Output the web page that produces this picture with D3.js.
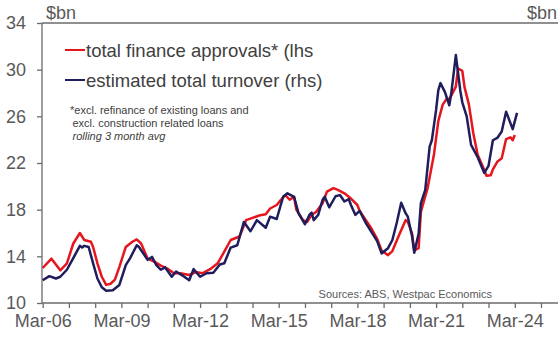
<!DOCTYPE html>
<html>
  <head>
    <title>Finance approvals vs turnover</title>
    <script type="text/javascript" src="https://cdnjs.cloudflare.com/ajax/libs/d3/7.8.5/d3.min.js"></script>
    <style>
      body { margin: 0; background: #fff; }
      text { font-family: "Liberation Sans", Arial, sans-serif; }
    </style>
  </head>
  <body>
  <script>

    // total finance approvals* (lhs), $bn, rolling 3 month avg
    var approvalsDates = [
      '2006-03','2006-07','2006-11','2007-02','2007-05','2007-08','2007-10','2008-01','2008-02','2008-04',
      '2008-06','2008-08','2008-10','2008-12','2009-02','2009-05','2009-07','2009-08','2009-10','2009-12',
      '2010-03','2010-06','2010-09','2010-12','2011-03','2011-06','2011-10','2012-01','2012-04','2012-08',
      '2012-11','2013-02','2013-05','2013-09','2013-12','2014-03','2014-06','2014-09','2014-11','2015-02',
      '2015-04','2015-06','2015-08','2015-10','2015-11','2016-02','2016-04','2016-06','2016-08','2016-11',
      '2017-01','2017-04','2017-06','2017-09','2017-12','2018-03','2018-04','2018-09','2018-12','2019-02',
      '2019-05','2019-07','2019-10','2020-01','2020-02','2020-04','2020-05','2020-07','2020-08','2020-11',
      '2021-02','2021-04','2021-06','2021-08','2021-09','2021-12','2022-01','2022-03','2022-04','2022-06',
      '2022-08','2022-10','2023-01','2023-02','2023-04','2023-05','2023-07','2023-09','2023-11','2024-01',
      '2024-02','2024-03'
    ];
    var approvalsValues = [
      13.0, 13.8, 12.8, 13.4, 15.1, 16.0, 15.4, 15.25, 14.8, 13.4,
      12.25, 11.55, 11.65, 12.0, 13.1, 14.8, 15.1, 15.25, 15.45, 15.1,
      13.8, 13.55, 13.2, 12.95, 12.55, 12.55, 12.4, 12.65, 12.55, 12.95,
      13.4, 14.4, 15.4, 15.7, 17.1, 17.3, 17.5, 17.6, 18.1, 18.4,
      18.85, 19.25, 18.85, 19.1, 18.0, 17.1, 16.95, 17.55, 17.8, 18.55,
      19.55, 19.85, 19.7, 19.4, 18.95, 18.4, 17.9, 16.5, 15.5, 14.5,
      14.1, 14.45, 15.8, 17.1, 16.95, 15.95, 14.5, 14.7, 17.8, 19.8,
      22.8, 25.6, 27.0, 27.55, 27.45, 28.55, 30.1, 29.9, 28.5, 27.0,
      24.55, 22.7, 21.4, 20.9, 20.95, 21.45, 22.1, 22.4, 24.05, 24.2,
      23.95, 24.4
    ];

    // estimated total turnover (rhs), $bn
    var turnoverDates = [
      '2006-03','2006-06','2006-09','2006-11','2007-02','2007-05','2007-08','2007-09','2007-10','2007-12',
      '2008-02','2008-04','2008-06','2008-08','2008-11','2009-02','2009-05','2009-07','2009-10','2009-11',
      '2010-03','2010-05','2010-07','2010-09','2010-11','2011-02','2011-04','2011-07','2011-10','2011-12',
      '2012-03','2012-06','2012-09','2012-12','2013-02','2013-05','2013-08','2013-11','2014-02','2014-05',
      '2014-09','2014-11','2015-02','2015-05','2015-07','2015-10','2015-12','2016-03','2016-05','2016-06',
      '2016-07','2016-09','2016-11','2016-12','2017-02','2017-05','2017-07','2017-09','2017-11','2017-12',
      '2018-02','2018-04','2018-07','2018-10','2018-12','2019-02','2019-05','2019-07','2019-09','2019-11',
      '2020-01','2020-02','2020-04','2020-05','2020-07','2020-08','2020-10','2020-12','2021-01','2021-03',
      '2021-04','2021-05','2021-07','2021-09','2021-10','2021-12','2022-02','2022-03','2022-05','2022-07',
      '2022-10','2023-01','2023-03','2023-05','2023-07','2023-09','2023-11','2024-02','2024-04'
    ];
    var turnoverValues = [
      11.95, 12.3, 12.1, 12.25, 12.85, 13.85, 14.9, 14.75, 14.9, 14.8,
      13.4, 12.1, 11.35, 11.05, 11.1, 11.55, 13.25, 13.85, 14.95, 14.8,
      13.7, 13.95, 13.25, 12.85, 13.05, 12.25, 12.7, 12.35, 11.95, 12.9,
      12.25, 12.55, 12.6, 13.3, 13.4, 14.75, 14.95, 16.95, 16.15, 17.1,
      16.45, 17.4, 17.2, 19.1, 19.4, 19.1, 17.7, 16.75, 17.55, 17.75,
      17.1, 17.55, 18.85, 19.1, 18.2, 19.15, 19.25, 18.7, 18.9, 18.4,
      17.55, 17.9, 16.8, 15.9, 15.3, 14.25, 14.7, 15.4, 16.9, 18.6,
      17.7, 17.4, 15.7, 14.3, 15.95, 18.55, 19.7, 23.4, 23.95, 26.55,
      28.25, 28.85, 28.1, 26.95, 28.1, 31.25, 28.2, 27.2, 26.0, 23.55,
      22.5, 21.15, 21.75, 23.95, 24.15, 24.7, 26.4, 24.9, 26.3
    ];

    var yTicks = [10, 14, 18, 22, 26, 30, 34];
    var xTickYears = d3.range(2006, 2026);
    var xTickLabels = ['Mar-06', 'Mar-09', 'Mar-12', 'Mar-15', 'Mar-18', 'Mar-21', 'Mar-24'];

    var red = '#e5161d', navy = '#1f1d5c', grey = '#595959', axisCol = '#6b6b6b';

    var width = 558, height = 340;
    var plotLeft = 42, plotTop = 23, plotBottom = 303;

    var svg = d3.select('body')
              .append('svg')
              .attr('width', width)
              .attr('height', height);

    var parse = d3.timeParse('%Y-%m');

    var x = d3.scaleTime()
      .domain([new Date(2006, 2, 1), new Date(2025, 2, 1)])
      .range([plotLeft + 0.7, 541]);

    var y = d3.scaleLinear()
      .domain([10, 34])
      .range([plotBottom, plotTop]);

    // x axis: yearly ticks, labels every three years
    var xAxis = d3.axisBottom(x)
      .tickValues(xTickYears.map(function(yr) { return new Date(yr, 2, 1); }))
      .tickSize(5)
      .tickPadding(6)
      .tickFormat(function(d) {
        var lab = 'Mar-' + d3.timeFormat('%y')(d);
        return xTickLabels.indexOf(lab) >= 0 ? lab : '';
      });

    var gx = svg.append('g')
      .attr('transform', 'translate(0,' + plotBottom + ')')
      .call(xAxis);
    gx.select('.domain').remove();
    gx.append('line')
      .attr('x1', plotLeft).attr('x2', width)
      .attr('stroke', axisCol).attr('stroke-width', 1.3);
    gx.selectAll('.tick line').attr('stroke', axisCol).attr('stroke-width', 1.3);
    gx.selectAll('.tick text')
      .attr('fill', grey)
      .style('font-size', '18px');

    // y axis (lhs)
    var yAxis = d3.axisLeft(y)
      .tickValues(yTicks)
      .tickSize(5)
      .tickPadding(11);

    var gy = svg.append('g')
      .attr('transform', 'translate(' + plotLeft + ',0)')
      .call(yAxis);
    gy.select('.domain').attr('stroke', axisCol).attr('stroke-width', 1.3)
      .attr('d', 'M0,' + plotTop + 'V' + plotBottom);
    gy.selectAll('.tick line').attr('stroke', axisCol).attr('stroke-width', 1.3);
    gy.selectAll('.tick text')
      .attr('fill', grey)
      .style('font-size', '18px');

    // top frame line
    svg.append('line')
      .attr('x1', plotLeft).attr('x2', width)
      .attr('y1', plotTop).attr('y2', plotTop)
      .attr('stroke', axisCol).attr('stroke-width', 1.3);

    svg.append('text').attr('x', 46).attr('y', 19)
      .attr('fill', grey).style('font-size', '18px').text('$bn');
    svg.append('text').attr('x', 557).attr('y', 19)
      .attr('text-anchor', 'end')
      .attr('fill', grey).style('font-size', '18px').text('$bn');

    var line = d3.line()
      .x(function(d) { return x(d[0]); })
      .y(function(d) { return y(d[1]); });

    var approvals = approvalsDates.map(function(d, i) { return [parse(d), approvalsValues[i]]; });
    var turnover = turnoverDates.map(function(d, i) { return [parse(d), turnoverValues[i]]; });

    svg.append('path')
      .datum(approvals)
      .attr('fill', 'none')
      .attr('stroke', red)
      .attr('stroke-width', 2.5)
      .attr('stroke-linejoin', 'round')
      .attr('d', line);

    svg.append('path')
      .datum(turnover)
      .attr('fill', 'none')
      .attr('stroke', navy)
      .attr('stroke-width', 2.5)
      .attr('stroke-linejoin', 'round')
      .attr('d', line);

    // legend
    var legend = [
      { label: 'total finance approvals* (lhs', color: red, y: 50 },
      { label: 'estimated total turnover (rhs)', color: navy, y: 80 }
    ];
    legend.forEach(function(l) {
      svg.append('line')
        .attr('x1', 65).attr('x2', 85)
        .attr('y1', l.y).attr('y2', l.y)
        .attr('stroke', l.color).attr('stroke-width', 2);
      svg.append('text')
        .attr('x', 86).attr('y', l.y + 6.5)
        .attr('fill', '#404040')
        .style('font-size', '18.5px')
        .text(l.label);
    });

    // notes
    svg.append('text').attr('x', 70).attr('y', 113.5)
      .attr('fill', '#404040').style('font-size', '11px')
      .text('*excl. refinance of existing loans and');
    svg.append('text').attr('x', 72.5).attr('y', 126.5)
      .attr('fill', '#404040').style('font-size', '11px')
      .text('excl. construction related loans');
    svg.append('text').attr('x', 72.5).attr('y', 139.5)
      .attr('fill', '#404040').style('font-size', '11px')
      .style('font-style', 'italic')
      .text('rolling 3 month avg');

    svg.append('text').attr('x', 492).attr('y', 298)
      .attr('text-anchor', 'end')
      .attr('fill', grey).style('font-size', '11px')
      .text('Sources: ABS, Westpac Economics');

  </script>
 </body>
</html>
